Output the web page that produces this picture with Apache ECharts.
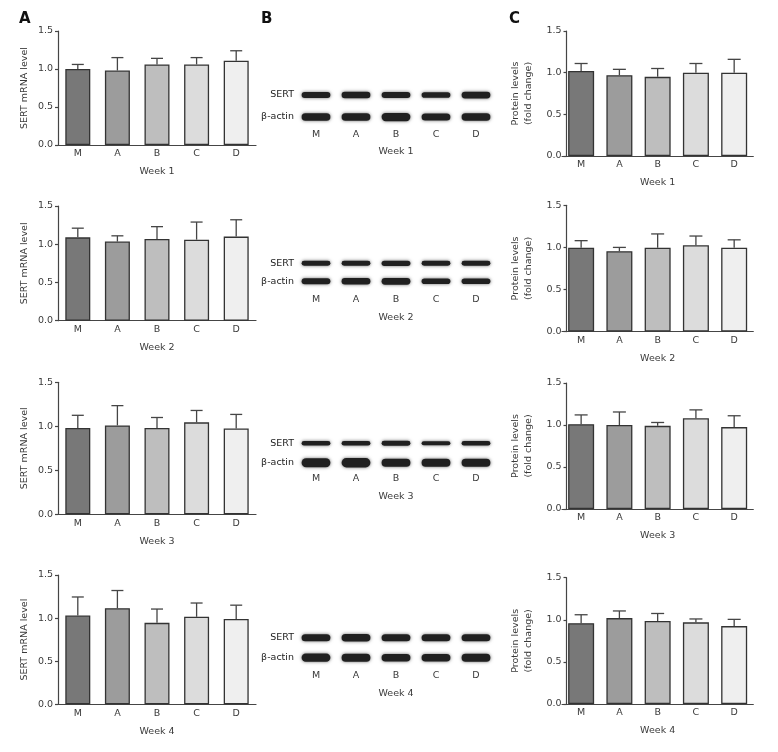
<!DOCTYPE html>
<html>
<head>
<meta charset="utf-8">
<script src="https://cdn.jsdelivr.net/npm/echarts@6/dist/echarts.min.js"></script>
<style>html,body{margin:0;padding:0;background:#fff}#c{width:778px;height:752px}</style>
</head>
<body>
<div id="c"></div>
<script>
// ---------- DATA ----------
const weeks = ['Week 1', 'Week 2', 'Week 3', 'Week 4'];
const groups = ['M', 'A', 'B', 'C', 'D'];
const yTicks = [0, 0.5, 1.0, 1.5];

// Panel A: SERT mRNA level (mean, SD)
const mrnaMeanW1 = [1.00, 0.98, 1.06, 1.06, 1.11];
const mrnaMeanW2 = [1.09, 1.035, 1.07, 1.06, 1.10];
const mrnaMeanW3 = [0.98, 1.01, 0.98, 1.045, 0.975];
const mrnaMeanW4 = [1.03, 1.115, 0.945, 1.015, 0.99];
const mrnaSdW1 = [0.06, 0.17, 0.08, 0.09, 0.13];
const mrnaSdW2 = [0.12, 0.075, 0.16, 0.23, 0.22];
const mrnaSdW3 = [0.145, 0.225, 0.12, 0.135, 0.16];
const mrnaSdW4 = [0.215, 0.205, 0.16, 0.16, 0.16];

// Panel C: protein levels (fold change) (mean, SD)
const protMeanW1 = [1.02, 0.97, 0.95, 1.00, 1.00];
const protMeanW2 = [0.995, 0.955, 0.995, 1.025, 0.995];
const protMeanW3 = [1.01, 1.00, 0.99, 1.08, 0.975];
const protMeanW4 = [0.96, 1.02, 0.985, 0.97, 0.925];
const protSdW1 = [0.09, 0.07, 0.10, 0.11, 0.16];
const protSdW2 = [0.085, 0.045, 0.165, 0.11, 0.095];
const protSdW3 = [0.11, 0.155, 0.04, 0.10, 0.135];
const protSdW4 = [0.10, 0.085, 0.09, 0.04, 0.08];

// Panel B: western blot relative band density
const blotRows = ['β-actin', 'SERT'];
const sertDensW1 = [0.8, 0.85, 0.8, 0.75, 0.9];
const actinDensW1 = [1.0, 1.0, 1.1, 0.95, 1.0];
const sertDensW2 = [0.65, 0.65, 0.7, 0.65, 0.65];
const actinDensW2 = [0.8, 0.85, 0.9, 0.75, 0.75];
const sertDensW3 = [0.6, 0.6, 0.65, 0.55, 0.6];
const actinDensW3 = [1.2, 1.25, 1.05, 1.05, 1.05];
const sertDensW4 = [0.95, 1.0, 0.95, 0.95, 0.95];
const actinDensW4 = [1.1, 1.05, 1.0, 1.0, 1.05];

const mrnaMeans = [mrnaMeanW1, mrnaMeanW2, mrnaMeanW3, mrnaMeanW4];
const mrnaSds = [mrnaSdW1, mrnaSdW2, mrnaSdW3, mrnaSdW4];
const protMeans = [protMeanW1, protMeanW2, protMeanW3, protMeanW4];
const protSds = [protSdW1, protSdW2, protSdW3, protSdW4];
const sertDens = [sertDensW1, sertDensW2, sertDensW3, sertDensW4];
const actinDens = [actinDensW1, actinDensW2, actinDensW3, actinDensW4];

// ---------- STYLE / LAYOUT ----------
const barColors = ['#787878', '#9c9c9c', '#bebebe', '#dcdcdc', '#efefef'];
const FONT = 'DejaVu Sans';
const TXT = '#3a3a3a';
const AX = '#454545';
const FS = 9.5;

const gridA = [[31, 114], [206, 114.7], [382.3, 132], [575, 129.3]];
const gridB = [[84, 44], [254.3, 36], [433.6, 38.8], [627.7, 40]];
const gridC = [[31, 125], [205.3, 126.3], [383, 126], [577.7, 126.3]];
const blotLabelMargin = [1.5, 4, 1, 3];
const blotNameGap = [19, 22, 19, 21];

const grids = [], xAxes = [], yAxes = [], series = [];

function errRender(hw) {
  return function (params, api) {
    const m = api.value(1), s = api.value(2);
    const b = api.coord([api.value(0), m]);
    const t = api.coord([api.value(0), m + s]);
    const st = { stroke: AX, lineWidth: 1.3 };
    return {
      type: 'group', children: [
        { type: 'line', shape: { x1: b[0], y1: b[1], x2: t[0], y2: t[1] }, style: st },
        { type: 'line', shape: { x1: t[0] - hw, y1: t[1], x2: t[0] + hw, y2: t[1] }, style: st }
      ]
    };
  };
}

function bandRender(params, api) {
  const c = api.coord([api.value(0), api.value(1)]);
  const sz = api.size([1, 1]);
  const w = sz[0] * 0.72;
  const h = Math.max(3, api.value(2) * 7.5);
  return {
    type: 'rect',
    shape: { x: c[0] - w / 2, y: c[1] - h / 2, width: w, height: h, r: h / 2 },
    style: { fill: '#202020', shadowBlur: 3.5, shadowColor: 'rgba(0,0,0,0.6)' }
  };
}

function barAxes(idx, week, yName, nameGap, lineHeight) {
  xAxes.push({
    type: 'category', gridIndex: idx, data: groups,
    name: week, nameLocation: 'middle', nameGap: 22,
    nameTextStyle: { color: TXT, fontSize: FS, fontFamily: FONT },
    axisLine: { lineStyle: { color: AX, width: 1.2 } },
    axisTick: { show: false },
    axisLabel: { color: TXT, fontSize: FS, fontFamily: FONT, margin: 4 }
  });
  yAxes.push({
    type: 'value', gridIndex: idx, min: yTicks[0], max: yTicks[yTicks.length - 1], interval: 0.5,
    offset: idx % 3 === 2 ? -4.5 : 0,
    name: yName, nameLocation: 'middle', nameGap: nameGap,
    nameTextStyle: { color: TXT, fontSize: FS, fontFamily: FONT, lineHeight: lineHeight },
    axisLine: { show: true, lineStyle: { color: AX, width: 1.2 } },
    axisTick: { show: true, length: 3, lineStyle: { color: AX, width: 1.2 } },
    splitLine: { show: false },
    axisLabel: { color: TXT, fontSize: FS, fontFamily: FONT, margin: 5, formatter: v => v.toFixed(1) }
  });
}

for (let w = 0; w < 4; w++) {
  const iA = 3 * w, iB = 3 * w + 1, iC = 3 * w + 2;
  grids.push({ left: 58, width: 198, top: gridA[w][0], height: gridA[w][1], containLabel: false });
  grids.push({ left: 296, width: 200, top: gridB[w][0], height: gridB[w][1], containLabel: false });
  grids.push({ left: 562, width: 191.3, top: gridC[w][0], height: gridC[w][1], containLabel: false });

  // Panel A axes
  barAxes(iA, weeks[w], 'SERT mRNA level', 27, 12);
  // Panel B axes
  xAxes.push({
    type: 'category', gridIndex: iB, data: groups,
    name: weeks[w], nameLocation: 'middle', nameGap: blotNameGap[w],
    nameTextStyle: { color: TXT, fontSize: FS, fontFamily: FONT },
    axisLine: { show: false }, axisTick: { show: false },
    axisLabel: { color: TXT, fontSize: FS, fontFamily: FONT, margin: blotLabelMargin[w] }
  });
  yAxes.push({
    type: 'category', gridIndex: iB, data: blotRows,
    axisLine: { show: false }, axisTick: { show: false }, splitLine: { show: false },
    axisLabel: { color: '#222', fontSize: FS, fontFamily: FONT, margin: 2 }
  });
  // Panel C axes
  barAxes(iC, weeks[w], 'Protein levels\n(fold change)', 31, 13);

  series.push({
    type: 'bar', xAxisIndex: iA, yAxisIndex: iA, barWidth: 25, silent: true,
    data: mrnaMeans[w].map((v, i) => ({ value: v, itemStyle: { color: barColors[i] } })),
    itemStyle: { borderColor: '#333', borderWidth: 1.3 }
  });
  series.push({
    type: 'custom', xAxisIndex: iA, yAxisIndex: iA, z: 3, silent: true,
    renderItem: errRender(6),
    data: mrnaMeans[w].map((v, i) => [i, v, mrnaSds[w][i]])
  });
  const bandData = [];
  groups.forEach((g, i) => {
    bandData.push([i, 0, actinDens[w][i]]);
    bandData.push([i, 1, sertDens[w][i]]);
  });
  series.push({
    type: 'custom', xAxisIndex: iB, yAxisIndex: iB, silent: true,
    renderItem: bandRender, data: bandData
  });
  series.push({
    type: 'bar', xAxisIndex: iC, yAxisIndex: iC, barWidth: 26, silent: true,
    data: protMeans[w].map((v, i) => ({ value: v, itemStyle: { color: barColors[i] } })),
    itemStyle: { borderColor: '#333', borderWidth: 1.3 }
  });
  series.push({
    type: 'custom', xAxisIndex: iC, yAxisIndex: iC, z: 3, silent: true,
    renderItem: errRender(6.5),
    data: protMeans[w].map((v, i) => [i, v, protSds[w][i]])
  });
}

const letterStyle = { fontSize: 15, fontWeight: 'bold', fontFamily: FONT, color: '#111' };
const chart = echarts.init(document.getElementById('c'), null, { renderer: 'canvas' });
chart.setOption({
  animation: false,
  backgroundColor: '#ffffff',
  textStyle: { fontFamily: FONT },
  title: [
    { text: 'A', left: 19, top: 12, textStyle: letterStyle, padding: 0 },
    { text: 'B', left: 261, top: 12, textStyle: letterStyle, padding: 0 },
    { text: 'C', left: 509, top: 12, textStyle: letterStyle, padding: 0 }
  ],
  grid: grids,
  xAxis: xAxes,
  yAxis: yAxes,
  series: series
});
</script>
</body>
</html>
